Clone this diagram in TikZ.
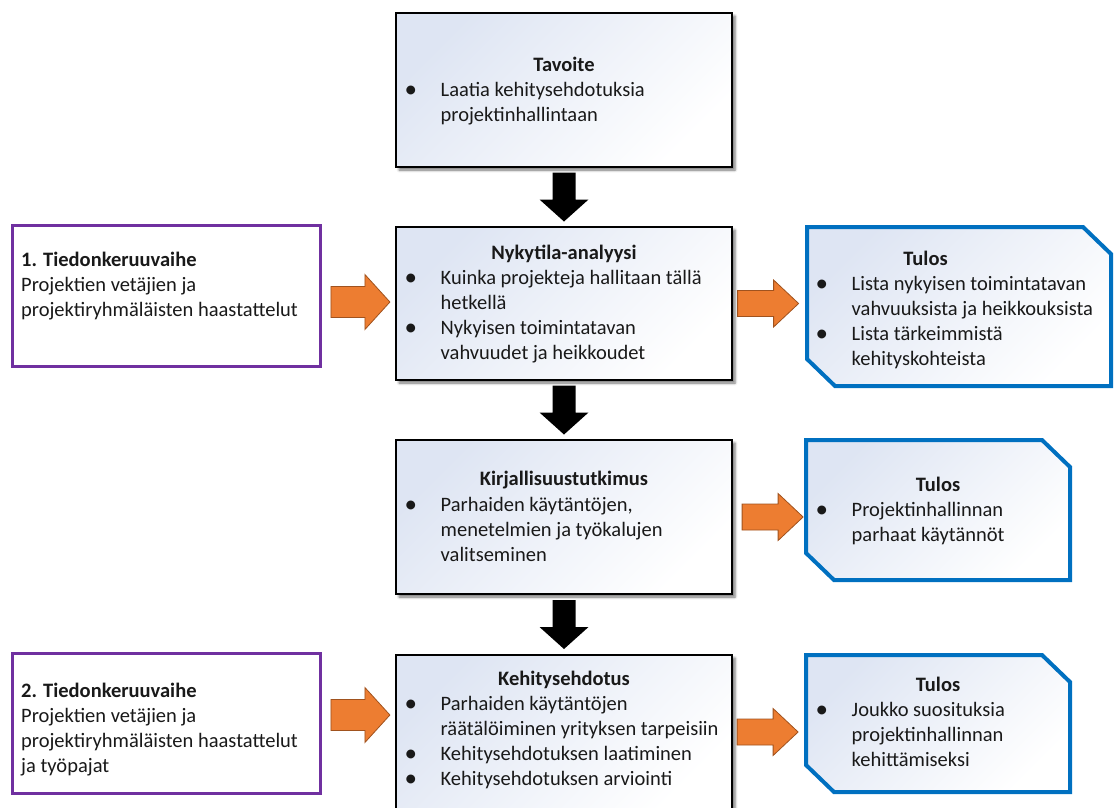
\documentclass[tikz,border=0pt]{standalone}
\usepackage{fontspec}
\setmainfont{Carlito}
\usetikzlibrary{calc,shadows.blur}

\definecolor{ink}{RGB}{25,25,25}
\definecolor{phaseline}{RGB}{112,48,160}
\definecolor{resultline}{RGB}{0,112,192}
\definecolor{arrowfill}{RGB}{237,125,49}
\definecolor{arrowline}{RGB}{160,82,30}
\definecolor{tint}{RGB}{222,229,243}

% bullet with fixed hanging indent
\newcommand\bul{\makebox[36pt][l]{\raisebox{-1.2pt}{\fontsize{25}{25}\selectfont •}}}
\newcommand\ind{\hspace*{36pt}}

\begin{document}
\begin{tikzpicture}[x=1pt,y=-1pt,
  % body texts are anchored at the baseline of their last line
  txt/.style={font=\fontsize{20.5}{25}\selectfont, text=ink, inner sep=0pt, align=left, anchor=base west},
  ttl/.style={font=\fontsize{20.5}{25}\selectfont\bfseries, text=ink, inner sep=0pt, anchor=base},
  stepbox/.style={draw=black, line width=2.4pt, minimum width=336pt, minimum height=154pt, inner sep=0pt,
    top color=tint, bottom color=white, shading angle=45,
    blur shadow={shadow xshift=3pt, shadow yshift=-3pt, shadow blur radius=2.5pt, shadow opacity=55}},
  phasebox/.style={draw=phaseline, line width=3pt, fill=white, minimum width=308pt, inner sep=0pt},
  resarea/.style={minimum width=304pt, inner sep=0pt, outer sep=0pt},
  resline/.style={draw=resultline, line width=4pt, line join=miter, top color=tint, bottom color=white, shading angle=45},
  orangearrow/.style={fill=arrowfill, draw=arrowline, line width=0.8pt, line join=miter},
  downarr/.pic={\fill[black] (-11.5,-24.5) -- (11.5,-24.5) -- (11.5,2.5) -- (24.5,2.5) -- (0,24.5) -- (-24.5,2.5) -- (-11.5,2.5) -- cycle;},
  inarr/.pic={\path[orangearrow] (-29.5,-15.5) -- (4.5,-15.5) -- (4.5,-27.5) -- (29.5,0) -- (4.5,27.5) -- (4.5,15.5) -- (-29.5,15.5) -- cycle;},
  outarr/.pic={\path[orangearrow] (-30.5,-13) -- (5.5,-13) -- (5.5,-23.5) -- (30.5,0) -- (5.5,23.5) -- (5.5,13) -- (-30.5,13) -- cycle;}
]
\useasboundingbox (0,0) rectangle (1115,807);

% main column
\node[stepbox] (tav) at (564,90) {};
\node[stepbox, minimum height=153pt] (nyk) at (564,303.5) {};
\node[stepbox] (kir) at (564,517) {};
\node[stepbox] (keh) at (564,732) {};

% data collection phases
\node[phasebox, minimum height=141pt] (l1) at (166.5,296) {};
\node[phasebox, minimum height=140pt] (l2) at (166.5,723.5) {};

% result boxes (chamfered outlines)
\node[resarea, minimum height=159pt] (r1) at (959,306.5) {};
\node[resarea, minimum width=264pt, minimum height=140pt] (r2) at (938,510) {};
\node[resarea, minimum width=264pt, minimum height=137pt] (r3) at (938,723.5) {};
\foreach \r in {r1,r2,r3}{
  \path[resline] (\r.north west) -- ($(\r.north east)+(-28,0)$) -- ($(\r.north east)+(0,27)$)
    -- (\r.south east) -- ($(\r.south west)+(28,0)$) -- ($(\r.south west)+(0,-27)$) -- cycle;
}

% black flow arrows
\pic at ($(tav.south)!0.5!(nyk.north)$) {downarr};
\pic at ($(nyk.south)!0.5!(kir.north)$) {downarr};
\pic at ($(kir.south)!0.5!(keh.north)$) {downarr};

% orange input / output arrows
\coordinate (m1) at ($(l1.east)!0.5!(nyk.west)$);
\coordinate (m2) at ($(l2.east)!0.5!(keh.west)$);
\coordinate (m3) at ($(nyk.east)!0.5!(r1.west)$);
\coordinate (m4) at ($(kir.east)!0.5!(r2.west)$);
\coordinate (m5) at ($(keh.east)!0.5!(r3.west)$);
\pic at ($(m1 |- nyk)+(2,-1.5)$) {inarr};
\pic at ($(m2 |- l2)+(2,-8.5)$) {inarr};
\pic at ($(m3 |- nyk)+(-2,0)$) {outarr};
\pic at ($(m4 |- kir)+(3,0)$) {outarr};
\pic at ($(m5 |- keh)+(-2,0)$) {outarr};

% texts
\node[ttl] (tavT) at (564,71) {Tavoite};
\node[txt] (tavB) at (404.5,121) {\bul Laatia kehitysehdotuksia\\\ind projektinhallintaan};

\node[ttl] (nykT) at (564,259) {Nykytila-analyysi};
\node[txt] (nykB) at (404.5,359) {\bul Kuinka projekteja hallitaan tällä\\\ind hetkellä\\\bul Nykyisen toimintatavan\\\ind vahvuudet ja heikkoudet};

\node[ttl] (kirT) at (564,485) {Kirjallisuustutkimus};
\node[txt] (kirB) at (404.5,561) {\bul Parhaiden käytäntöjen,\\\ind menetelmien ja työkalujen\\\ind valitseminen};

\node[ttl] (kehT) at (564,685) {Kehitysehdotus};
\node[txt] (kehB) at (404.5,785) {\bul Parhaiden käytäntöjen\\\ind räätälöiminen yrityksen tarpeisiin\\\bul Kehitysehdotuksen laatiminen\\\bul Kehitysehdotuksen arviointi};

\node[txt] (l1T) at (21,316) {\textbf{1. Tiedonkeruuvaihe}\\Projektien vetäjien ja\\projektiryhmäläisten haastattelut};
\node[txt] (l2T) at (21,772) {\textbf{2. Tiedonkeruuvaihe}\\Projektien vetäjien ja\\projektiryhmäläisten haastattelut\\ja työpajat};

\node[ttl] (r1T) at (925.5,265) {Tulos};
\node[txt] (r1B) at (815.5,365) {\bul Lista nykyisen toimintatavan\\\ind vahvuuksista ja heikkouksista\\\bul Lista tärkeimmistä\\\ind kehityskohteista};

\node[ttl] (r2T) at (938,491) {Tulos};
\node[txt] (r2B) at (815.5,541) {\bul Projektinhallinnan\\\ind parhaat käytännöt};

\node[ttl] (r3T) at (938,691) {Tulos};
\node[txt] (r3B) at (815.5,766) {\bul Joukko suosituksia\\\ind projektinhallinnan\\\ind kehittämiseksi};
\end{tikzpicture}
\end{document}
